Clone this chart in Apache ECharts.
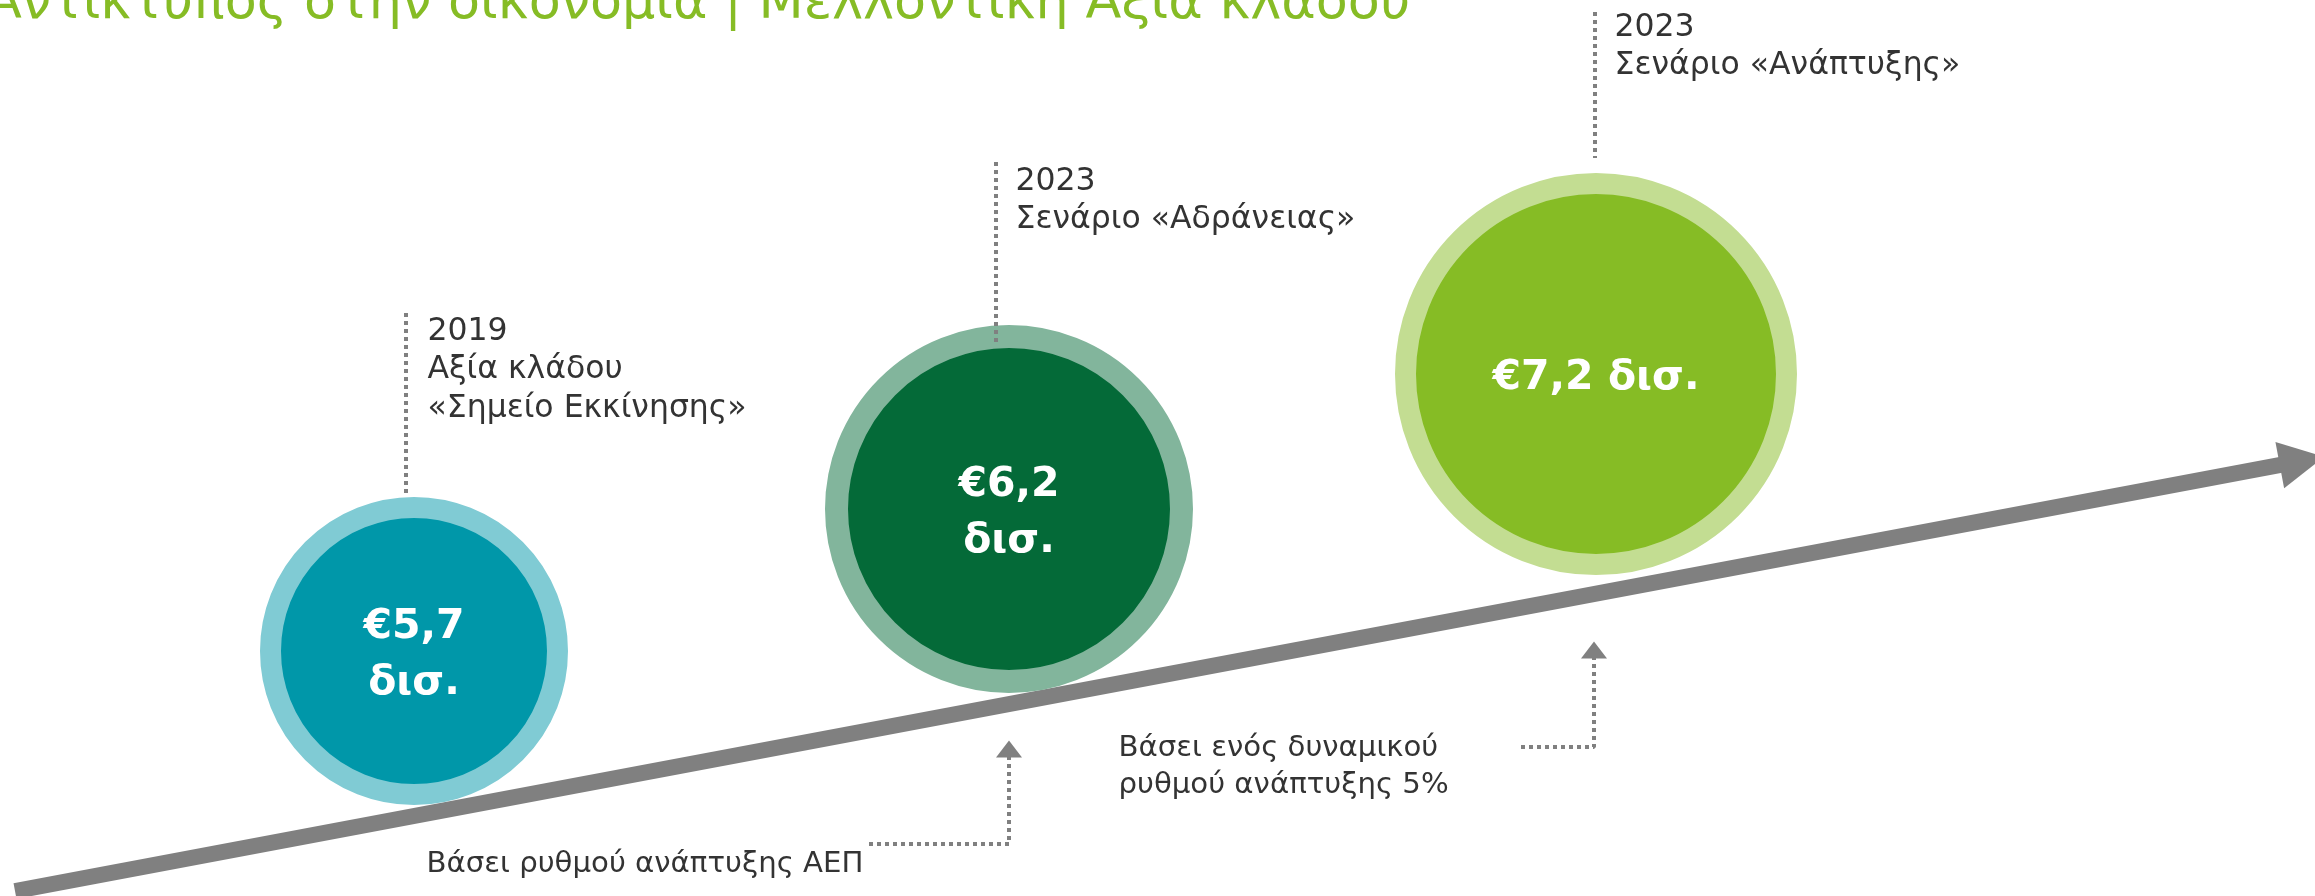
<!DOCTYPE html>
<html>
<head>
<meta charset="utf-8">
<script src="https://cdn.jsdelivr.net/npm/echarts@6/dist/echarts.min.js"></script>
<style>
  html, body { margin: 0; padding: 0; background: #fff; }
  #chart { width: 2315px; height: 896px; }
</style>
</head>
<body>
<div id="chart"></div>
<script>
// 数据
const titleText = 'Αντίκτυπος στην οικονομία | Μελλοντική Αξία κλάδου';
const years = ['2019', '2023', '2023'];
const captions = ['Αξία κλάδου\n«Σημείο Εκκίνησης»', 'Σενάριο «Αδράνειας»', 'Σενάριο «Ανάπτυξης»'];
const values = [5.7, 6.2, 7.2];
const unit = 'δισ.';
const growthNotes = ['Βάσει ρυθμού ανάπτυξης ΑΕΠ', 'Βάσει ενός δυναμικού\nρυθμού ανάπτυξης 5%'];

// 样式 / 布局 (像素坐标, 坐标轴 = 画布)
const W = 2315, H = 896;
const FONT = '"DejaVu Sans", Verdana, sans-serif';
const fillColors = ['#0097A9', '#046A38', '#86BC25'];
const ringColors = ['#80CBD4', '#82B59C', '#C3DD92'];
const circleX = [414, 1009, 1596];
const circleY = [651, 509, 374];
const outerR = [154, 184, 201];
const ringW = [21, 23, 21];
const labelBreak = ['\n', '\n', ' '];
const grey = '#808080';

const arrowStart = [15, 891];
const arrowAngle = 10.65; // 度
const arrowLen = 2327;
const rad = arrowAngle * Math.PI / 180;
const arrowEnd = [arrowStart[0] + arrowLen * Math.cos(rad), arrowStart[1] - arrowLen * Math.sin(rad)];

// 虚线引线
const leaders = [
  { pts: [[406, 313], [406, 493]] },
  { pts: [[996, 162], [996, 343]] },
  { pts: [[1595, 12], [1595, 158]] },
  { pts: [[869, 844], [1009, 844], [1009, 749]], head: true },
  { pts: [[1521, 747], [1594, 747], [1594, 650]], head: true },
];
// 文字锚点 (左上)
const topTextPos = [[428, 313], [1016, 163], [1615, 9]];
const noteTextPos = [[427, 846], [1119, 730]];

const fmt = (v, i) => '€' + v.toFixed(1).replace('.', ',') + labelBreak[i] + unit;

const leaderSeries = leaders.map(l => ({
  type: 'line',
  z: 5,
  symbol: 'none',
  clip: false,
  silent: true,
  lineStyle: { color: grey, width: 4, type: 'dotted' },
  data: l.pts.map((p, k) => (l.head && k === l.pts.length - 1)
    ? { value: p, symbol: 'triangle', symbolSize: [26, 17], itemStyle: { color: grey, opacity: 1 } }
    : p),
}));

const topStyle = { color: '#333333', fontFamily: FONT, fontSize: 31.5, lineHeight: 38.5 };
const noteStyle = { color: '#333333', fontFamily: FONT, fontSize: 29.2, lineHeight: 37 };

const option = {
  animation: false,
  title: {
    text: titleText,
    left: -14,
    top: -22,
    padding: 0,
    textStyle: { color: '#86BC25', fontFamily: FONT, fontSize: 52.4, fontWeight: 'normal' },
  },
  grid: { left: 0, right: 0, top: 0, bottom: 0 },
  xAxis: { type: 'value', min: 0, max: W, show: false },
  yAxis: { type: 'value', min: 0, max: H, inverse: true, show: false },
  series: [
    {
      type: 'line',
      z: 1,
      symbol: 'none',
      clip: false,
      silent: true,
      lineStyle: { color: grey, width: 16, cap: 'butt' },
      data: [
        arrowStart,
        { value: arrowEnd, symbol: 'triangle', symbolSize: [47, 45], symbolRotate: arrowAngle - 90, itemStyle: { color: grey, opacity: 1 } },
      ],
    },
    {
      type: 'scatter',
      z: 3,
      silent: true,
      data: values.map((v, i) => ({
        value: [circleX[i], circleY[i]],
        symbolSize: 2 * outerR[i] - ringW[i],
        itemStyle: { color: fillColors[i], borderColor: ringColors[i], borderWidth: ringW[i], opacity: 1 },
        label: {
          show: true,
          position: 'inside',
          offset: [0, 4],
          formatter: fmt(v, i),
          color: '#ffffff',
          fontFamily: FONT,
          fontWeight: 'bold',
          fontSize: 41,
          lineHeight: 56,
        },
      })),
    },
    ...leaderSeries,
    {
      type: 'scatter',
      z: 6,
      silent: true,
      symbolSize: 1,
      itemStyle: { color: 'rgba(0,0,0,0)', opacity: 1 },
      data: years.map((y, i) => ({
        value: topTextPos[i],
        label: { show: true, position: [0, 0], align: 'left', verticalAlign: 'top', formatter: y + '\n' + captions[i], ...topStyle },
      })).concat(growthNotes.map((n, i) => ({
        value: noteTextPos[i],
        label: { show: true, position: [0, 0], align: 'left', verticalAlign: 'top', formatter: n, ...noteStyle },
      }))),
    },
  ],
};

const chart = echarts.init(document.getElementById('chart'));
chart.setOption(option);
</script>
</body>
</html>
